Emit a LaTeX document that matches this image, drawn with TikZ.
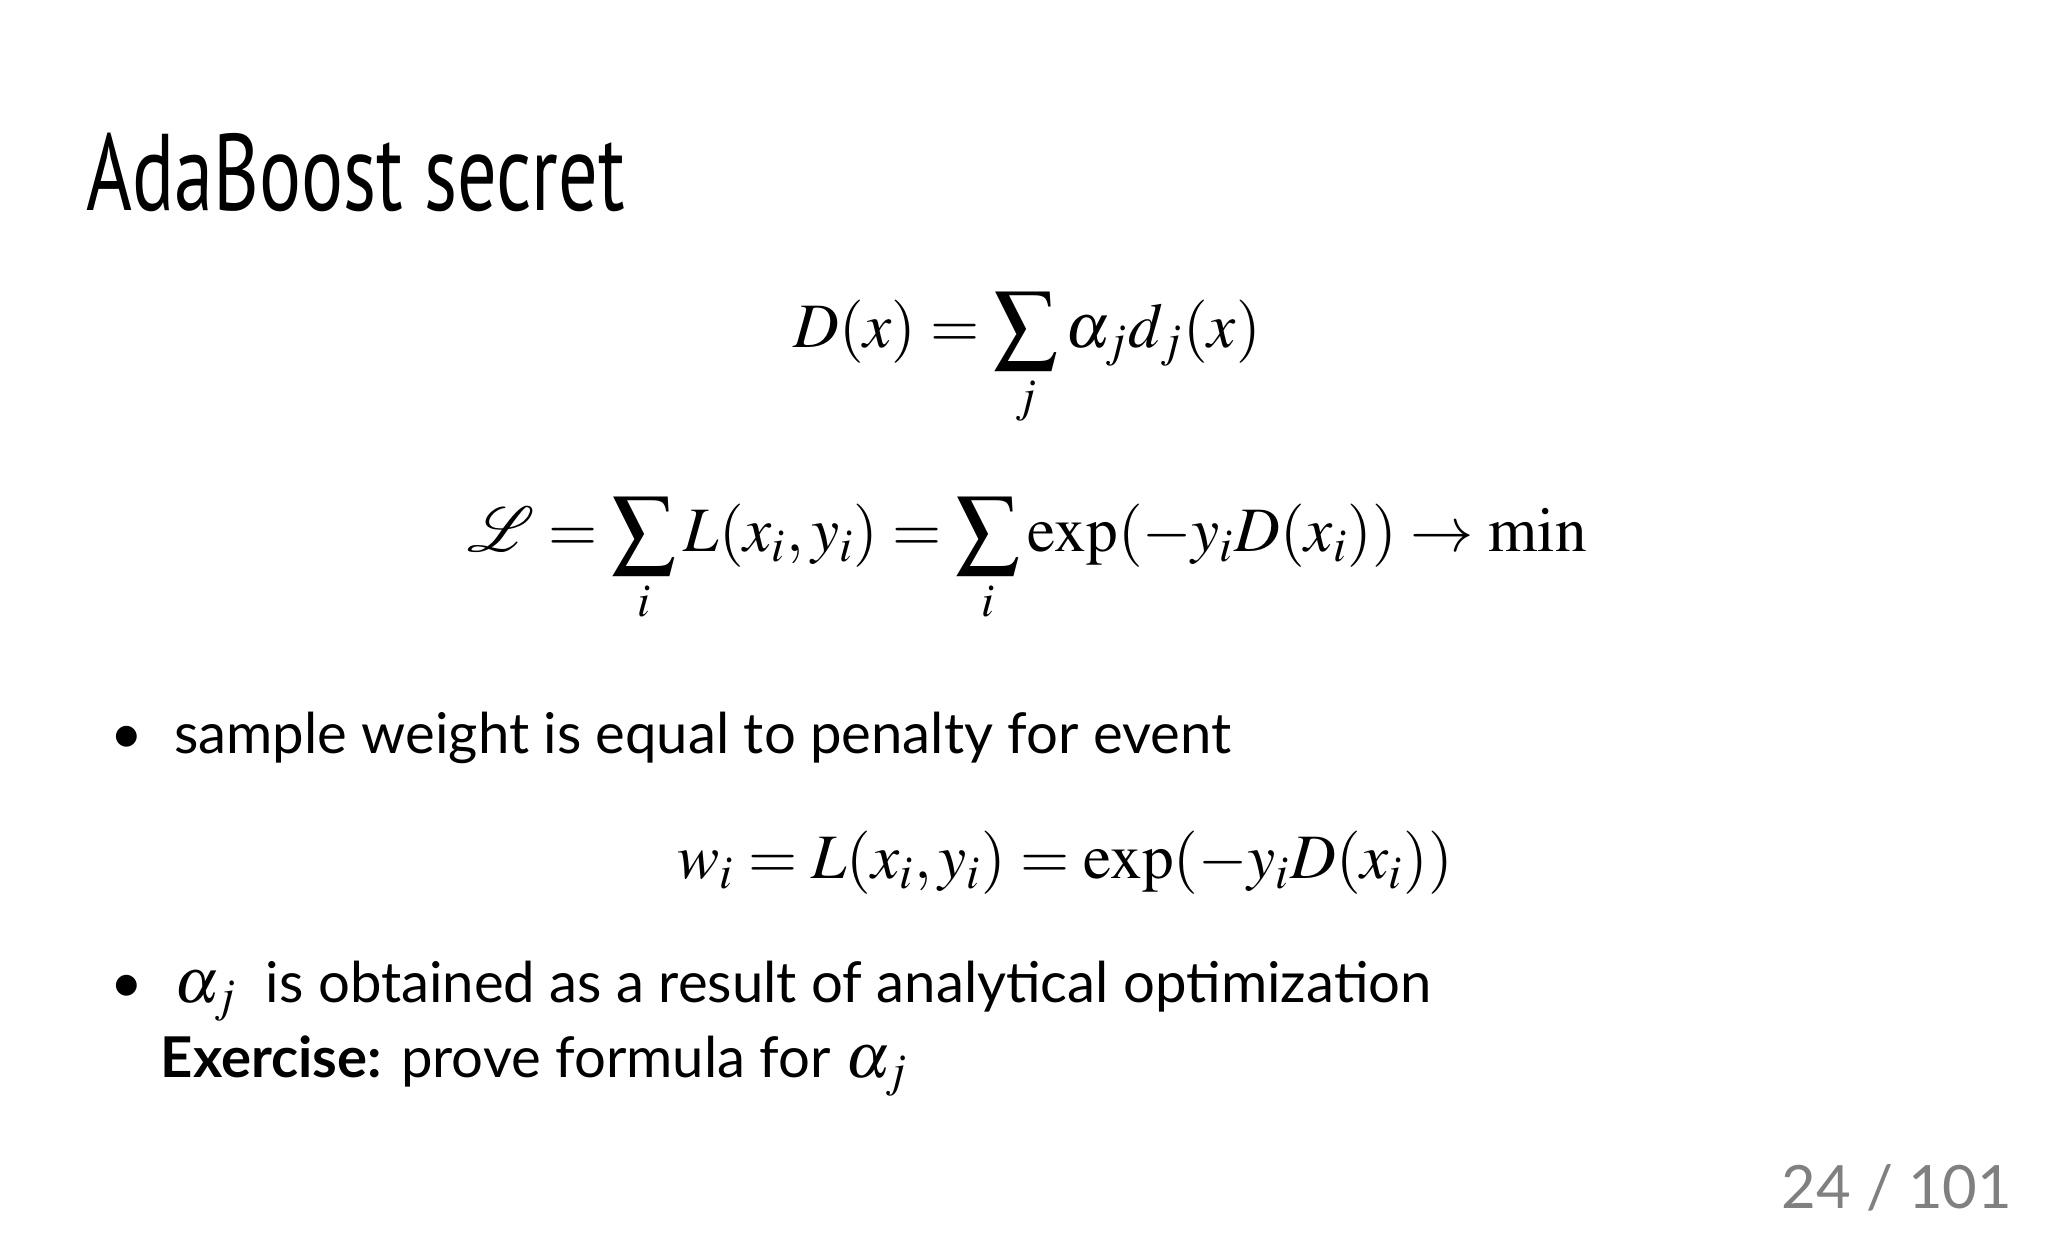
\documentclass[tikz,border=0pt]{standalone}
\usepackage{amsmath}
\usepackage{mathptmx}
\usepackage{fontspec}
\setmainfont{Lato}
\newfontfamily\titlefont{PT Sans}
\tikzset{txt/.style={inner sep=0pt,font=\fontsize{16}{19}\selectfont},
 eq/.style={inner sep=0pt,font=\fontsize{18}{22}\selectfont}}
\begin{document}
\begin{tikzpicture}
\useasboundingbox[fill=white] (0,0) rectangle (20.48,-12.36);
\node[inner sep=0pt,anchor=west] (title) at (0.86,-1.72) {\scalebox{0.72}[1]{\titlefont\fontsize{31}{36}\selectfont AdaBoost secret}};
\node[eq] (e1) at (10.27,-3.6) {$\displaystyle D(x)=\sum_j \alpha_j d_j(x)$};
\node[eq] (e2) at (10.27,-5.6) {$\displaystyle \mathcal{L}=\sum_i L(x_i,y_i)=\sum_i \exp(-y_iD(x_i))\rightarrow\min$};
\node[txt,anchor=west] (b1) at (1.1,-7.38) {\textbullet\hspace{0.55em}sample weight is equal to penalty for event};
\node[eq] (e3) at (10.65,-8.63) {$w_i = L(x_i,y_i)=\exp(-y_iD(x_i))$};
\node[txt,anchor=west] (b2) at (1.1,-9.91) {\textbullet\hspace{0.55em}{\fontsize{18}{22}\selectfont$\alpha_j$}\ \ is obtained as a result of analytical optimization};
\node[txt,anchor=west] (b3) at (1.6,-10.66) {\textbf{Exercise:} prove formula for {\fontsize{18}{22}\selectfont$\alpha_j$}};
\node[inner sep=0pt,anchor=east,text=gray,font=\fontsize{17}{20}\selectfont] (pg) at (20.13,-11.88) {24 / 101};
\end{tikzpicture}
\end{document}
